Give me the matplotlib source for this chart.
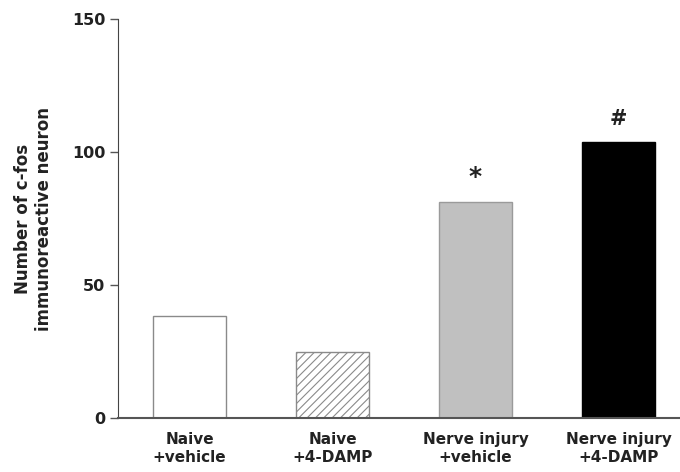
import matplotlib
matplotlib.use("Agg")
import matplotlib.pyplot as plt
import numpy as np

groups = ["Naive\n+vehicle", "Naive\n+4-DAMP", "Nerve injury\n+vehicle", "Nerve injury\n+4-DAMP"]
counts = [38.3, 25.0, 81.2, 103.8]
marks = ["", "", "*", "#"]

plt.rcParams['font.family'] = ['DejaVu Sans']
plt.rcParams['font.weight'] = 'bold'
plt.rcParams['hatch.color'] = '#888888'
plt.rcParams['hatch.linewidth'] = 0.8

fig = plt.figure(figsize=(6.8, 4.72), dpi=100)
ax = fig.add_axes([0.1735, 0.1144, 0.8265, 0.8446])

x = np.arange(len(groups))
faces = ['white', 'white', '#c0c0c0', 'black']
edges = ['#8a8a8a', '#8a8a8a', '#9a9a9a', 'black']
hatches = [None, '////', None, None]
for i in range(len(groups)):
    ax.bar(x[i], counts[i], width=0.505, color=faces[i], edgecolor=edges[i],
           linewidth=1.0, hatch=hatches[i])
    if marks[i]:
        if marks[i] == '*':
            ax.text(x[i], counts[i] + 5, marks[i], ha='center', va='bottom',
                    fontsize=18, fontweight='bold', color='#222222')
        else:
            ax.text(x[i], counts[i] + 5, marks[i], ha='center', va='bottom',
                    fontsize=15, fontweight='bold', color='#222222')

ax.set_xlim(-0.5, 3.43)
ax.set_ylim(0, 150)
ax.set_yticks([0, 50, 100, 150])
ax.set_xticks(x)
ax.set_xticklabels(groups, fontsize=11, fontweight='bold', color='#222222',
                   linespacing=1.25)
ax.tick_params(axis='x', length=0, pad=10)
ax.tick_params(axis='y', length=6, width=1, color='#555555', labelsize=11.5,
               labelcolor='#222222', pad=3)
for lab in ax.get_yticklabels():
    lab.set_fontweight('bold')

ax.spines['top'].set_visible(False)
ax.spines['right'].set_visible(False)
ax.spines['left'].set_color('#444444')
ax.spines['bottom'].set_color('#555555')
ax.spines['bottom'].set_linewidth(1.5)

ax.set_ylabel("Number of c-fos\nimmunoreactive neuron", fontsize=12, fontweight='bold',
              color='#222222', labelpad=14, linespacing=1.2)

plt.savefig("out.png", dpi=100)
plt.close()
